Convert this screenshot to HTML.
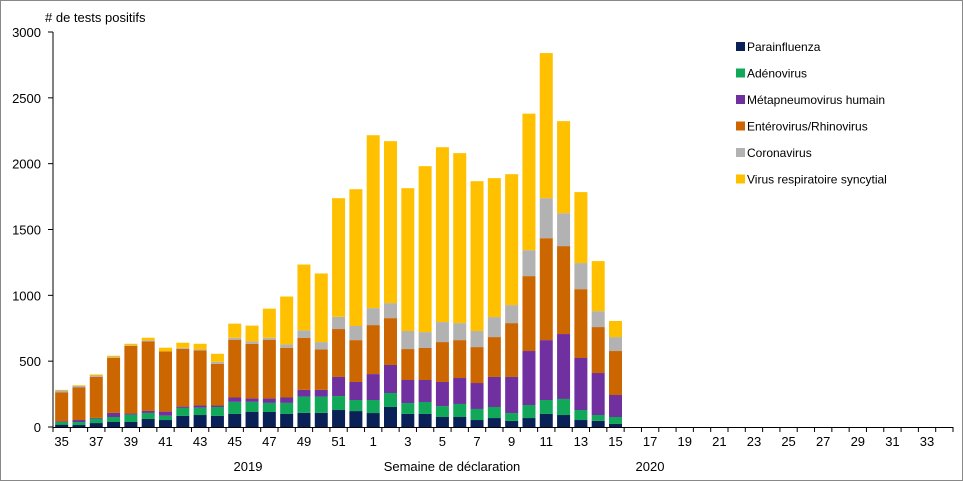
<!DOCTYPE html>
<html><head><meta charset="utf-8"><style>
body{margin:0;background:#fff;}
svg{display:block;font-family:"Liberation Sans",sans-serif;}
</style></head><body>
<svg id="chart" width="963" height="481" viewBox="0 0 963 481">
<rect x="0.5" y="0.5" width="962" height="480" fill="#fff" stroke="#888"/>
<text x="45" y="22" font-size="13" fill="#000"># de tests positifs</text>
<g id="grid"></g><g id="bars"></g><g id="axes"></g><g id="legend"></g>
<text x="248" y="471" font-size="13" text-anchor="middle">2019</text>
<text x="452" y="471" font-size="13" text-anchor="middle">Semaine de déclaration</text>
<text x="650" y="471" font-size="13" text-anchor="middle">2020</text>
</svg>
<script>
const weeks=[35,36,37,38,39,40,41,42,43,44,45,46,47,48,49,50,51,52,1,2,3,4,5,6,7,8,9,10,11,12,13,14,15,16,17,18,19,20,21,22,23,24,25,26,27,28,29,30,31,32,33,34];
const seriesNames=["Parainfluenza","Adénovirus","Métapneumovirus humain","Entérovirus/Rhinovirus","Coronavirus","Virus respiratoire syncytial"];
const seriesColors=["#0a2158","#11a85a","#7030a0","#cc6600","#b2b2b2","#ffc000"];
const parainfluenza=[18,15,30,38,38,61,53,84,91,84,99,114,114,99,107,107,129,121,106,152,99,99,76,76,53,68,46,68,99,91,53,46,23];
const adenovirus=[20,23,34,38,56,46,33,61,56,68,92,77,69,84,124,124,106,84,99,106,83,91,83,99,84,84,60,99,106,122,76,45,53];
const metapneumo=[5,15,5,31,8,15,31,10,16,11,33,25,33,41,51,51,145,137,197,213,175,167,183,197,197,228,274,410,455,493,395,319,167];
const enterorhino=[219,247,312,419,515,528,457,439,419,317,439,416,447,378,396,307,364,318,372,356,235,243,303,288,273,303,409,569,774,668,523,349,334];
const coronavirus=[15,12,10,5,3,8,0,8,7,15,15,18,15,25,56,56,93,107,129,114,137,121,152,129,122,152,137,197,304,250,198,121,106];
const rsv=[5,5,8,10,12,20,28,38,43,61,107,120,221,364,500,521,901,1039,1313,1230,1085,1260,1328,1291,1138,1055,994,1037,1102,699,539,380,122];
const series=[parainfluenza,adenovirus,metapneumo,enterorhino,coronavirus,rsv];
const yTicks=[0,500,1000,1500,2000,2500,3000];
const NS="http://www.w3.org/2000/svg";
const X0=53,X1=953,Y0=427,Y1=32,YMAX=3000;
const step=(X1-X0)/weeks.length;
const xc=i=>X0+step*(i+0.5);
const ys=v=>Y0-(v/YMAX)*(Y0-Y1);
function mk(tag,attrs,parent){const e=document.createElementNS(NS,tag);for(const k in attrs)e.setAttribute(k,attrs[k]);parent.appendChild(e);return e;}
const gB=document.getElementById('bars'),gA=document.getElementById('axes'),gL=document.getElementById('legend');
weeks.forEach((w,i)=>{let cum=0;series.forEach((s,k)=>{const v=s[i]||0;if(v<=0)return;
const r=mk('rect',{x:xc(i)-6.5,y:ys(cum+v),width:13,height:ys(cum)-ys(cum+v),fill:seriesColors[k]},gB);


cum+=v;});});
mk('line',{x1:X0,y1:Y1,x2:X0,y2:Y0,stroke:'#000'},gA);
mk('line',{x1:X0,y1:Y0+0.5,x2:X1,y2:Y0+0.5,stroke:'#000'},gA);
yTicks.forEach(t=>{const y=ys(t);mk('line',{x1:X0-5,y1:y,x2:X0,y2:y,stroke:'#000'},gA);
const tx=mk('text',{x:X0-12,y:y+5,'font-size':13,'text-anchor':'end'},gA);tx.textContent=t;

});
for(let i=0;i<=weeks.length;i++){const x=X0+step*i;mk('line',{x1:x,y1:Y0,x2:x,y2:Y0+5,stroke:'#000'},gA);}
weeks.forEach((w,i)=>{if(i%2)return;const tx=mk('text',{x:xc(i),y:Y0+19,'font-size':13,'text-anchor':'middle'},gA);tx.textContent=w;

});
seriesNames.forEach((n,k)=>{const y=47+k*26.5;
const g=mk('g',{},gL);


mk('rect',{x:736,y:y-5,width:9,height:9,fill:seriesColors[k]},g);
const t=mk('text',{x:747,y:y+4,'font-size':12},g);t.textContent=n;});
</script>
</body></html>
